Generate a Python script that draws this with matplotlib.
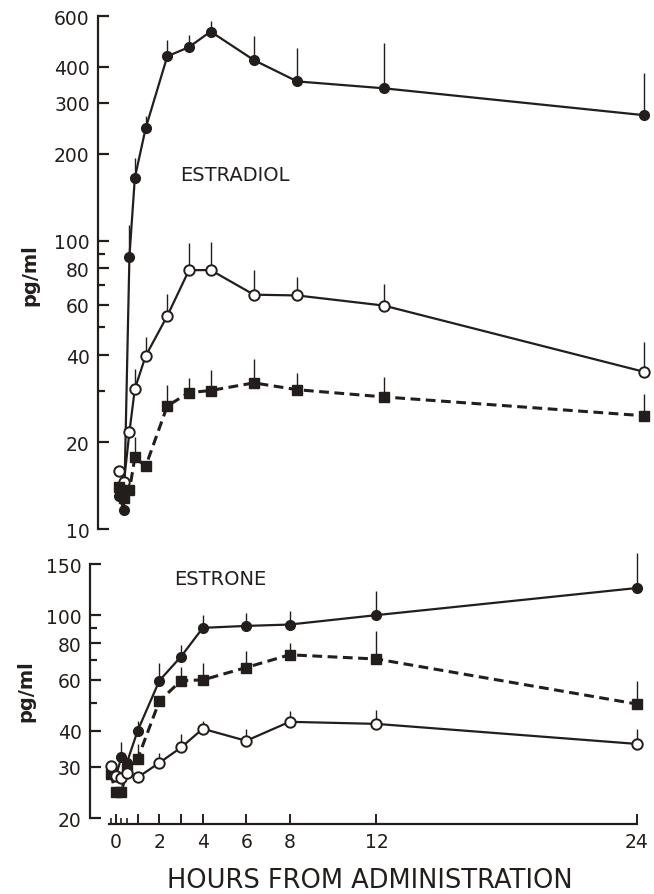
import numpy as np
import matplotlib
matplotlib.use("Agg")
import matplotlib.pyplot as plt
from matplotlib.ticker import FixedLocator, FuncFormatter, NullFormatter

# sampling times (hours from administration)
hours = [-0.25, 0, 0.25, 0.5, 1, 2, 3, 4, 6, 8, 12, 24]

# ESTRADIOL panel (pg/ml) - mean and top of error bar (nan = no bar)
e2_filled = [13.0, 11.6, 88, 165, 245, 435, 468, 530, 422, 356, 337, 272]
e2_filled_hi = [np.nan, np.nan, 113, 193, 270, 495, 515, 575, 511, 464, 483, 380]
e2_open = [15.9, 14.6, 21.7, 30.6, 39.8, 54.8, 78.9, 79, 64.9, 64.5, 59.5, 35.1]
e2_open_hi = [np.nan, np.nan, np.nan, 35.9, 46.3, 65.5, 97.7, 99, 78.9, 74.7, 70.9, 44.4]
e2_square = [14.0, 12.8, 13.6, 17.7, 16.5, 26.7, 29.7, 30.2, 32.1, 30.4, 28.7, 24.7]
e2_square_hi = [np.nan, np.nan, np.nan, 20.9, np.nan, 31.5, 33.4, 35.5, 38.9, 34.8, 33.7, 29.4]

# ESTRONE panel (pg/ml)
e1_filled = [29.5, 28.0, 32.4, 31.0, 40, 59.5, 72, 90.4, 91.8, 92.8, 100, 124]
e1_filled_hi = [np.nan, np.nan, 36.6, np.nan, 43.3, 68.6, 79.2, 100, 102, 103.5, 121, 164]
e1_open = [30.1, 28.0, 27.4, 28.5, 27.6, 31, 35, 40.6, 36.9, 42.9, 42.2, 36.0]
e1_open_hi = [np.nan, np.nan, np.nan, np.nan, np.nan, 33.6, 39, 43.3, 40.6, 46.8, 47, 40.5]
e1_square = [28.4, 24.5, 24.5, 29.6, 32.0, 50.6, 59.5, 59.8, 66, 73, 70.6, 49.4]
e1_square_hi = [np.nan, np.nan, np.nan, np.nan, 36, np.nan, 66.5, 68.6, 75, 80.4, 88, 59.4]

top_ticks = [10, 20, 40, 60, 80, 100, 200, 300, 400, 600]
top_minor = [30, 50, 70, 90]
bot_ticks = [20, 30, 40, 60, 80, 100, 150]
bot_minor = [50, 70, 90]
x_ticks = [0, 1, 2, 3, 4, 6, 8, 12, 24]
x_labels = ["0", "", "2", "", "4", "6", "8", "12", "24"]
x_minor = [-0.25, 0.25, 0.5]

ink = "#231e1b"
plt.rcParams["font.family"] = "DejaVu Sans"

fig = plt.figure(figsize=(6.54, 8.95), dpi=100)
ax1 = fig.add_axes([0.1797, 0.4078, 0.8043, 0.5732])
ax2 = fig.add_axes([0.1674, 0.0849, 0.8063, 0.2838])


def series(ax, y, hi, style):
    ax.vlines(hours, y, hi, color=ink, lw=1.0, zorder=2, clip_on=False)
    if style == "filled":
        ax.plot(hours, y, "-o", color=ink, lw=1.6, ms=7, mfc=ink, mec=ink,
                zorder=3, clip_on=False)
    elif style == "open":
        ax.plot(hours, y, "-o", color=ink, lw=1.6, ms=7.5, mfc="white", mec=ink,
                mew=1.4, zorder=3, clip_on=False)
    else:
        ax.plot(hours, y, "s", color=ink, ls=(0, (3.2, 1.8)), lw=2.2, ms=6.5,
                mfc=ink, mec=ink, zorder=3, clip_on=False)


def style_y(ax, lims, major, minor):
    ax.set_yscale("log")
    ax.set_ylim(*lims)
    ax.yaxis.set_major_locator(FixedLocator(major))
    ax.yaxis.set_major_formatter(FuncFormatter(lambda v, p: "%g" % v))
    ax.yaxis.set_minor_locator(FixedLocator(minor))
    ax.yaxis.set_minor_formatter(NullFormatter())
    ax.tick_params(axis="y", which="major", direction="in", length=8, width=1.6,
                   labelsize=13.5, pad=6, colors=ink)
    ax.tick_params(axis="y", which="minor", direction="in", length=5, width=1.6,
                   colors=ink)
    ax.spines["left"].set_position(("outward", 14))
    ax.spines["left"].set_linewidth(1.6)
    ax.spines["left"].set_color(ink)
    for s in ["top", "right"]:
        ax.spines[s].set_visible(False)
    ax.set_xlim(-0.3, 24)


# estradiol
series(ax1, e2_filled, e2_filled_hi, "filled")
series(ax1, e2_open, e2_open_hi, "open")
series(ax1, e2_square, e2_square_hi, "square")
style_y(ax1, (10, 600), top_ticks, top_minor)
ax1.spines["bottom"].set_visible(False)
ax1.set_xticks([])
ax1.text(2.6, 170, "ESTRADIOL", fontsize=14, color=ink, va="center", ha="left")

# estrone
series(ax2, e1_filled, e1_filled_hi, "filled")
series(ax2, e1_square, e1_square_hi, "square")
series(ax2, e1_open, e1_open_hi, "open")
style_y(ax2, (20, 150), bot_ticks, bot_minor)
ax2.text(2.7, 134, "ESTRONE", fontsize=14, color=ink, va="center", ha="left")

ax2.xaxis.set_major_locator(FixedLocator(x_ticks))
ax2.set_xticklabels(x_labels)
ax2.xaxis.set_minor_locator(FixedLocator(x_minor))
ax2.tick_params(axis="x", which="major", direction="in", length=7, width=1.4,
                labelsize=13.5, pad=6, colors=ink)
ax2.tick_params(axis="x", which="minor", direction="in", length=4, width=1.2,
                colors=ink)
ax2.spines["bottom"].set_position(("outward", 4))
ax2.spines["bottom"].set_linewidth(1.6)
ax2.spines["bottom"].set_color(ink)

fig.text(0.045, 0.693, "pg/ml", rotation=90, fontsize=14, fontweight="bold",
         color=ink, ha="center", va="center")
fig.text(0.040, 0.228, "pg/ml", rotation=90, fontsize=14, fontweight="bold",
         color=ink, ha="center", va="center")
fig.text(0.565, 0.016, "HOURS FROM ADMINISTRATION", fontsize=18.5, color=ink,
         ha="center", va="center")

fig.savefig("out.png", dpi=100, facecolor="white")
